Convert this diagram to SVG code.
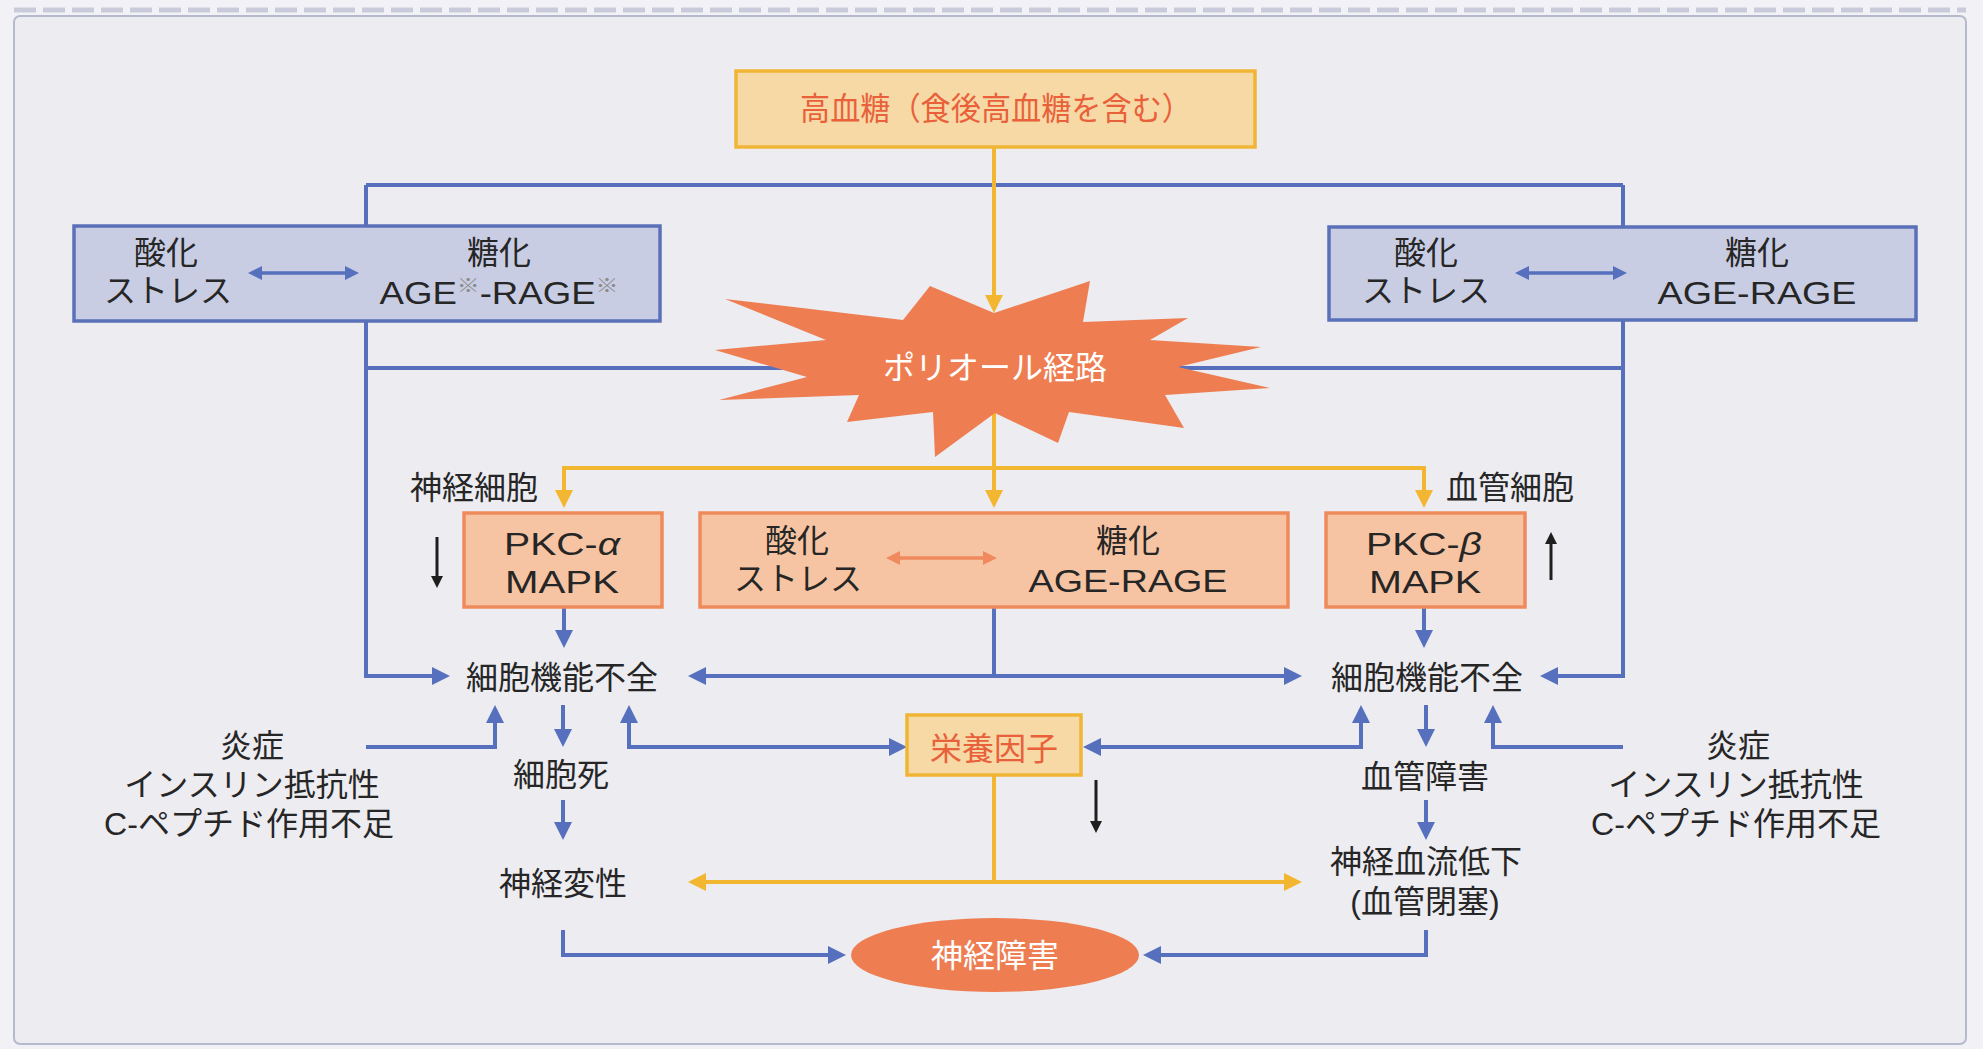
<svg xmlns="http://www.w3.org/2000/svg" width="1983" height="1049" viewBox="0 0 1983 1049">
<style>
.bl{fill:none;stroke:#5670BE;stroke-width:4}
.yl{fill:none;stroke:#F2B631;stroke-width:4}
.kl{fill:none;stroke:#1E1E1E;stroke-width:3}
.ol{fill:none;stroke:#F08A5E;stroke-width:3.5}
.sl{fill:none;stroke:#5670BE;stroke-width:3.5}
.bbox{fill:#C9CDE3;stroke:#5A70B8;stroke-width:3.5}
.obox{fill:#F6C4A2;stroke:#EE8A5C;stroke-width:3.5}
.ybox{fill:#F7D9A6;stroke:#F0B535;stroke-width:3.5}
.burst{fill:#EE7E52}
text{font-family:"Liberation Sans","Noto Sans CJK JP",sans-serif;font-size:32px;fill:#262626;text-anchor:middle}
.st{text-anchor:start}
.or{fill:#E8613A}
.wh{fill:#FFFFFF}
.sup{font-size:20px;fill:#8A8A8A}
</style>
<defs>
<marker id="mb" viewBox="0 0 18 18" markerWidth="18" markerHeight="18" refX="6" refY="9" orient="auto-start-reverse" markerUnits="userSpaceOnUse"><path d="M0,0 L18,9 L0,18 z" fill="#5670BE"/></marker>
<marker id="my" viewBox="0 0 18 18" markerWidth="18" markerHeight="18" refX="6" refY="9" orient="auto-start-reverse" markerUnits="userSpaceOnUse"><path d="M0,0 L18,9 L0,18 z" fill="#F2B631"/></marker>
<marker id="msb" viewBox="0 0 14 14" markerWidth="14" markerHeight="14" refX="4" refY="7" orient="auto-start-reverse" markerUnits="userSpaceOnUse"><path d="M0,0 L14,7 L0,14 z" fill="#5670BE"/></marker>
<marker id="mso" viewBox="0 0 14 14" markerWidth="14" markerHeight="14" refX="4" refY="7" orient="auto-start-reverse" markerUnits="userSpaceOnUse"><path d="M0,0 L14,7 L0,14 z" fill="#F08A5E"/></marker>
<marker id="mk" viewBox="0 0 12 12" markerWidth="12" markerHeight="12" refX="4" refY="6" orient="auto-start-reverse" markerUnits="userSpaceOnUse"><path d="M0,0 L12,6 L0,12 z" fill="#1E1E1E"/></marker>
</defs>

<rect x="0" y="0" width="1983" height="1049" fill="#F2F2F6"/>
<line x1="14" y1="10" x2="1966" y2="10" stroke="#C9CBDA" stroke-width="5" stroke-dasharray="22 7"/>
<rect x="14" y="16" width="1952" height="1028" rx="6" fill="#ECECF1" stroke="#B5B9CC" stroke-width="2"/>

<g id="connectors">
  <path class="bl" d="M366,185 H1623"/>
  <path class="bl" d="M366,368 H1623"/>
  <path class="bl" d="M366,185 V676 H438" marker-end="url(#mb)"/>
  <path class="bl" d="M1623,185 V676 H1552" marker-end="url(#mb)"/>
  <path class="yl" d="M994,147 V301" marker-end="url(#my)"/>
  <path class="yl" d="M564,496 V468 H1424 V496" marker-start="url(#my)" marker-end="url(#my)"/>
  <path class="yl" d="M994,412 V496" marker-end="url(#my)"/>
  <path class="yl" d="M994,775 V882"/>
  <path class="yl" d="M700,882 H1290" marker-start="url(#my)" marker-end="url(#my)"/>
  <path class="bl" d="M564,607 V636" marker-end="url(#mb)"/>
  <path class="bl" d="M1424,607 V636" marker-end="url(#mb)"/>
  <path class="bl" d="M994,607 V676"/>
  <path class="bl" d="M700,676 H1290" marker-start="url(#mb)" marker-end="url(#mb)"/>
  <path class="bl" d="M366,747 H495 V717" marker-end="url(#mb)"/>
  <path class="bl" d="M563,705 V735" marker-end="url(#mb)"/>
  <path class="bl" d="M629,717 V747 H895" marker-start="url(#mb)" marker-end="url(#mb)"/>
  <path class="bl" d="M563,800 V828" marker-end="url(#mb)"/>
  <path class="bl" d="M563,930 V955 H834" marker-end="url(#mb)"/>
  <path class="bl" d="M1095,747 H1361 V717" marker-start="url(#mb)" marker-end="url(#mb)"/>
  <path class="bl" d="M1426,705 V735" marker-end="url(#mb)"/>
  <path class="bl" d="M1623,747 H1493 V717" marker-end="url(#mb)"/>
  <path class="bl" d="M1426,800 V828" marker-end="url(#mb)"/>
  <path class="bl" d="M1426,930 V955 H1155" marker-end="url(#mb)"/>
  <path class="kl" d="M437,537 V580" marker-end="url(#mk)"/>
  <path class="kl" d="M1551,580 V540" marker-end="url(#mk)"/>
  <path class="kl" d="M1096,780 V825" marker-end="url(#mk)"/>
</g>

<g id="hyperglycemia">
  <rect class="ybox" x="736" y="71" width="519" height="76"/>
  <text class="or" x="996" y="120" textLength="392" lengthAdjust="spacingAndGlyphs">高血糖（食後高血糖を含む）</text>
</g>

<g id="ox-left">
  <rect class="bbox" x="74" y="226" width="586" height="95"/>
  <path class="sl" d="M258,273 H349" marker-start="url(#msb)" marker-end="url(#msb)"/>
  <text x="166" y="264">酸化</text>
  <text x="168" y="302">ストレス</text>
  <text x="499" y="264">糖化</text>
  <text x="499" y="304" textLength="239" lengthAdjust="spacingAndGlyphs">AGE<tspan class="sup" dy="-11">※</tspan><tspan dy="11">-RAGE</tspan><tspan class="sup" dy="-11">※</tspan></text>
</g>

<g id="ox-right">
  <rect class="bbox" x="1329" y="227" width="587" height="93"/>
  <path class="sl" d="M1525,273 H1617" marker-start="url(#msb)" marker-end="url(#msb)"/>
  <text x="1426" y="264">酸化</text>
  <text x="1426" y="302">ストレス</text>
  <text x="1757" y="264">糖化</text>
  <text x="1757" y="304" textLength="199" lengthAdjust="spacingAndGlyphs">AGE-RAGE</text>
</g>

<g id="polyol">
  <polygon class="burst" points="994,313 1090,281 1083,322 1188,318 1150,340 1261,347 1178,367 1270,388 1165,395 1184,428 1069,412 1058,443 995,413 935,457 933,412 847,422 859,395 719,400 807,377 715,350 826,340 725,299 903,320 930,286"/>
  <text class="wh" x="995" y="379" font-size="31">ポリオール経路</text>
</g>

<g id="label-nerve">
  <text class="st" x="410" y="499">神経細胞</text>
</g>
<g id="label-vessel">
  <text class="st" x="1446" y="499">血管細胞</text>
</g>

<g id="pkc-alpha">
  <rect class="obox" x="464" y="513" width="198" height="94"/>
  <text x="562" y="555" textLength="116" lengthAdjust="spacingAndGlyphs">PKC-<tspan font-style="italic">α</tspan></text>
  <text x="562" y="593" textLength="114" lengthAdjust="spacingAndGlyphs">MAPK</text>
</g>

<g id="ox-center">
  <rect class="obox" x="700" y="513" width="588" height="94"/>
  <path class="ol" d="M896,558 H987" marker-start="url(#mso)" marker-end="url(#mso)"/>
  <text x="797" y="552">酸化</text>
  <text x="798" y="590">ストレス</text>
  <text x="1128" y="552">糖化</text>
  <text x="1128" y="592" textLength="199" lengthAdjust="spacingAndGlyphs">AGE-RAGE</text>
</g>

<g id="pkc-beta">
  <rect class="obox" x="1326" y="513" width="199" height="94"/>
  <text x="1424" y="555" textLength="116" lengthAdjust="spacingAndGlyphs">PKC-<tspan font-style="italic">β</tspan></text>
  <text x="1425" y="593" textLength="112" lengthAdjust="spacingAndGlyphs">MAPK</text>
</g>

<g id="dysfunction-left">
  <text x="562" y="689">細胞機能不全</text>
</g>
<g id="dysfunction-right">
  <text x="1427" y="689">細胞機能不全</text>
</g>

<g id="trophic">
  <rect class="ybox" x="907" y="715" width="174" height="60"/>
  <text class="or" x="994" y="760">栄養因子</text>
</g>

<g id="factors-left">
  <text x="252" y="757">炎症</text>
  <text x="252" y="796">インスリン抵抗性</text>
  <text x="249" y="835">C-ペプチド作用不足</text>
</g>
<g id="factors-right">
  <text x="1738" y="757">炎症</text>
  <text x="1736" y="796">インスリン抵抗性</text>
  <text x="1736" y="835">C-ペプチド作用不足</text>
</g>

<g id="cell-death">
  <text x="561" y="786">細胞死</text>
</g>
<g id="degeneration">
  <text x="563" y="895">神経変性</text>
</g>
<g id="vascular">
  <text x="1425" y="788">血管障害</text>
</g>
<g id="bloodflow">
  <text x="1426" y="873">神経血流低下</text>
  <text x="1425" y="913">(血管閉塞)</text>
</g>

<g id="neuropathy">
  <ellipse class="burst" cx="995" cy="955" rx="144" ry="37"/>
  <text class="wh" x="995" y="967">神経障害</text>
</g>
</svg>
